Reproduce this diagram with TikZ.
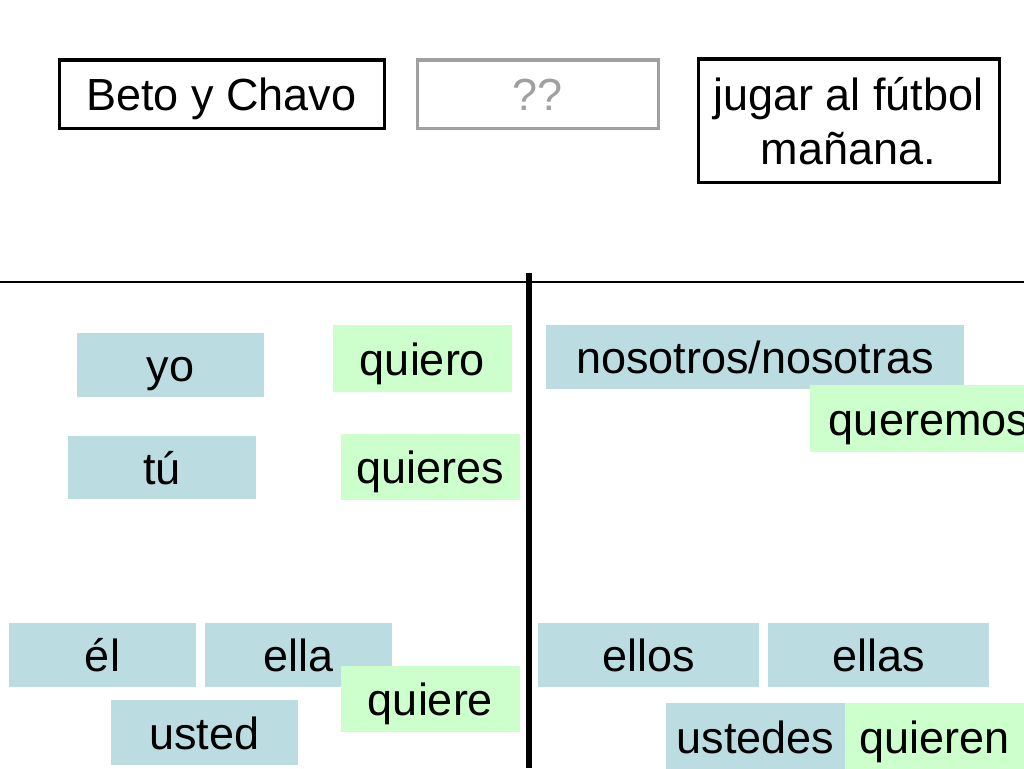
\documentclass[tikz,border=0pt]{standalone}
\usepackage{fontspec}
\setmainfont{Liberation Sans}
\definecolor{bluec}{RGB}{187,221,226}
\definecolor{greenc}{RGB}{204,255,204}
\definecolor{grayc}{RGB}{160,160,160}
\begin{document}
\begin{tikzpicture}[x=1pt,y=-1pt,
  every node/.style={font=\fontsize{45}{54}\selectfont, inner sep=0pt, text height=33pt, text depth=0pt},
  topbox/.style={draw=black, line width=3pt, align=center},
  qbox/.style={draw=grayc, line width=3pt, text=grayc},
  bluebox/.style={fill=bluec},
  greenbox/.style={fill=greenc}]
\useasboundingbox (0,0) rectangle (1024,768);
\begin{scope}
\clip (0,0) rectangle (1024,768);
% top row
\node[topbox, minimum width=325, minimum height=68] (beto) at (221.5,94) {Beto y Chavo};
\node[qbox, minimum width=241, minimum height=68] (qq) at (537.5,94) {??};
\node[topbox, minimum width=301, minimum height=123, text height=87pt] (jugar) at (848.5,120.5) {jugar al fútbol\\mañana.};
% dividers
\coordinate (hl) at (0,282);
\coordinate (hr) at (1024,282);
\coordinate (vt) at (529,273);
\coordinate (vb) at (529,768);
\draw[line width=2pt] (hl) -- (hr);
\draw[line width=6pt] (vt) -- (vb);
% subject boxes
\node[bluebox, minimum width=187, minimum height=64] (yo) at (170.5,365) {yo};
\node[bluebox, minimum width=188, minimum height=63] (tu) at (162,467.5) {tú};
\node[bluebox, minimum width=418, minimum height=64] (nos) at (755,357) {nosotros/nosotras};
\node[bluebox, minimum width=187, minimum height=64] (el) at (102.5,655) {él};
\node[bluebox, minimum width=187, minimum height=64] (ella) at (298.5,655) {ella};
\node[bluebox, minimum width=187, minimum height=65] (usted) at (204.5,732.5) {usted};
\node[bluebox, minimum width=221, minimum height=64] (ellos) at (648.5,655) {ellos};
\node[bluebox, minimum width=221, minimum height=64] (ellas) at (878.5,655) {ellas};
\node[bluebox, minimum width=179, minimum height=67] (ustedes) at (755.5,736.5) {ustedes};
% verb boxes
\node[greenbox, minimum width=179, minimum height=67] (quiero) at (422.5,358.5) {quiero};
\node[greenbox, minimum width=179, minimum height=66] (quieres) at (430.5,467) {quieres};
\node[greenbox, minimum width=238, minimum height=67] (queremos) at (929,418.5) {queremos};
\node[greenbox, minimum width=179, minimum height=66] (quiere) at (430.5,699) {quiere};
\node[greenbox, minimum width=179, minimum height=67] (quieren) at (934.5,736.5) {quieren};
\end{scope}
\end{tikzpicture}
\end{document}
